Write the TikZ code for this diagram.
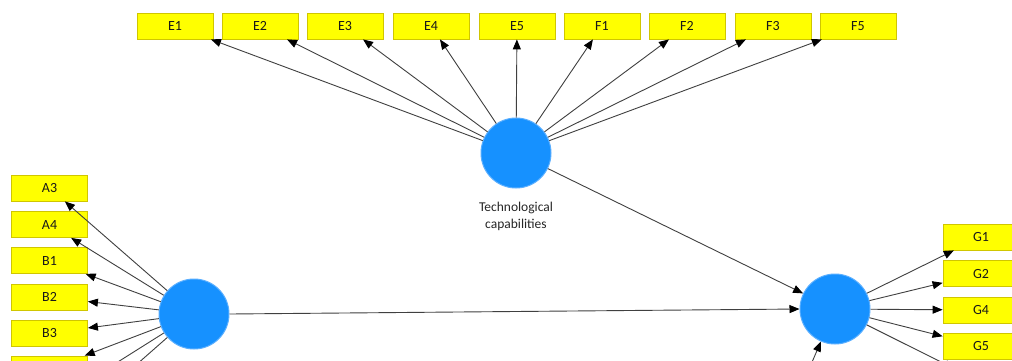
\documentclass[tikz,border=0pt]{standalone}
\usepackage{fontspec}
\setmainfont{Carlito}
\usetikzlibrary{arrows.meta}
\definecolor{boxfill}{RGB}{255,255,0}
\definecolor{boxline}{RGB}{208,198,0}
\definecolor{lvfill}{RGB}{22,145,255}
\definecolor{lvline}{RGB}{90,175,255}
\definecolor{edgecol}{RGB}{64,64,64}
\begin{document}
\begin{tikzpicture}[x=1pt,y=-1pt,
  ind/.style={draw=boxline, fill=boxfill, line width=0.8pt, minimum width=76pt, minimum height=26pt, inner sep=0pt, font=\fontsize{14}{16}\selectfont, text=black!90},
  lv/.style={circle, fill=lvfill, draw=lvline, line width=1pt, minimum size=70pt, inner sep=0pt},
  arr/.style={draw=edgecol, line width=0.9pt, -{Triangle[length=10pt,width=8pt,fill=black,color=black]}},
  lbl/.style={font=\fontsize{13.5}{17}\selectfont, align=center, text=black!85}]
\fill[white] (0,0) rectangle (1012,360);
\clip (0,0) rectangle (1012,360);

% latent variables
\node[lv] (tech) at (516,153) {};
\node[lv] (left) at (194,314) {};
\node[lv] (right) at (835,309) {};
\node[lbl] (techlbl) at (516,216.5) {Technological\\capabilities};
\coordinate (src) at (790,413);

% top indicators
\node[ind] (E1) at (175,26) {E1};
\node[ind] (E2) at (260,26) {E2};
\node[ind] (E3) at (345,26) {E3};
\node[ind] (E4) at (431,26) {E4};
\node[ind] (E5) at (517,26) {E5};
\node[ind] (F1) at (602,26) {F1};
\node[ind] (F2) at (687,26) {F2};
\node[ind] (F3) at (773,26) {F3};
\node[ind] (F5) at (858,26) {F5};

% left indicators
\node[ind] (A3) at (49.5,188) {A3};
\node[ind] (A4) at (49.5,224.5) {A4};
\node[ind] (B1) at (49.5,260.5) {B1};
\node[ind] (B2) at (49.5,297) {B2};
\node[ind] (B3) at (49.5,333) {B3};
\node[ind] (L6) at (49.5,369) {};
\node[ind] (L7) at (49.5,405) {};
\node[ind] (L8) at (49.5,441) {};

% right indicators
\node[ind] (G1) at (981,237) {G1};
\node[ind] (G2) at (981,273.5) {G2};
\node[ind] (G4) at (981,310) {G4};
\node[ind] (G5) at (981,346) {G5};
\node[ind] (G6) at (981,382) {};

% connectors
\foreach \t in {E1,E2,E3,E4,E5,F1,F2,F3,F5}
  \draw[arr] (tech) -- (\t);
\foreach \t in {A3,A4,B1,B2,B3,L6,L7,L8}
  \draw[arr] (left) -- (\t);
\foreach \t in {G1,G2,G4,G5,G6}
  \draw[arr] (right) -- (\t);
\draw[arr] (tech) -- (right);
\draw[arr] (left.east) -- (right.west);
\draw[arr] (src) -- (right);
\end{tikzpicture}
\end{document}
